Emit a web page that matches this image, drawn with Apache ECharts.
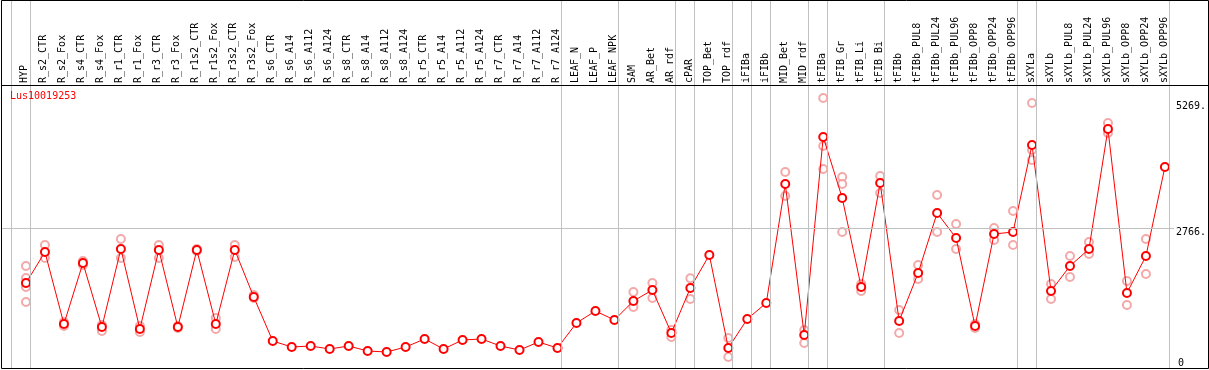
<!DOCTYPE html>
<html><head><meta charset="utf-8">
<script src="https://cdn.jsdelivr.net/npm/echarts@6/dist/echarts.min.js"></script>
<style>html,body{margin:0;padding:0;background:#fff}#c{width:1209px;height:370px}</style>
</head><body><div id="c"></div>
<script>
const chartTitle = 'Lus10019253';
const categories = ['HYP','R_s2_CTR','R_s2_Fox','R_s4_CTR','R_s4_Fox','R_r1_CTR','R_r1_Fox','R_r3_CTR','R_r3_Fox','R_r1s2_CTR','R_r1s2_Fox','R_r3s2_CTR','R_r3s2_Fox','R_s6_CTR','R_s6_A14','R_s6_A112','R_s6_A124','R_s8_CTR','R_s8_A14','R_s8_A112','R_s8_A124','R_r5_CTR','R_r5_A14','R_r5_A112','R_r5_A124','R_r7_CTR','R_r7_A14','R_r7_A112','R_r7_A124','LEAF_N','LEAF_P','LEAF_NPK','SAM','AR_Bet','AR_rdf','cPAR','TOP_Bet','TOP_rdf','iFIBa','iFIBb','MID_Bet','MID_rdf','tFIBa','tFIB_Gr','tFIB_Li','tFIB_Bi','tFIBb','tFIBb_PUL8','tFIBb_PUL24','tFIBb_PUL96','tFIBb_OPP8','tFIBb_OPP24','tFIBb_OPP96','sXYLa','sXYLb','sXYLb_PUL8','sXYLb_PUL24','sXYLb_PUL96','sXYLb_OPP8','sXYLb_OPP24','sXYLb_OPP96'];
const means = [1677,2289,868,2072,809,2348,770,2329,809,2329,868,2329,1401,533,414,434,375,434,335,316,414,572,375,553,572,434,355,513,395,888,1125,947,1322,1539,691,1579,2230,395,967,1283,3631,651,4559,3355,1598,3651,927,1875,3059,2565,829,2644,2684,4401,1520,2013,2348,4716,1480,2210,3967];
const replicates = [[2013,1776,1598,1302,1677],[2427,2171],[908,829],[2111,2033],[848,730],[2546,2171],[829,711],[2427,2171],[829,789],[2348,2309],[987,770],[2427,2190],[1441,1381],[],[],[],[],[],[],[],[],[],[],[],[],[],[],[],[],[],[],[],[1500,1204],[1677,1381],[750,612],[1770,1361],[],[592,217],[],[],[3868,3394],[750,493],[5328,4381,3927],[3769,3631,2684],[1657,1520],[3789,3453],[1145,691],[2033,1756],[3414,2684],[2841,2348],[868,789],[2762,2526],[3098,2427],[5229,4105,4302],[1657,1361],[2210,1796],[2487,2250],[4835,4637],[1717,1243],[2546,1855],[]];
const yTickValues = [0, 2766, 5269];
const gridValue = 2766;
const separatorsAfter = [-1,0,28,31,34,35,37,38,39,41,42,45,52,53,60];

const plotLeft = 2, plotRight = 1175, plotBottom = 368, headerBottom = 85;
const step = 19, firstX = 26, sepOffset = 4 / step, labelShift = -2 / step;
const xMin = (plotLeft - firstX) / step, xMax = (plotRight - firstX) / step;
const yTopVal = 5269, yTopPx = 101;
const yMax = yTopVal * plotBottom / (plotBottom - yTopPx);
const mono = 'DejaVu Sans Mono';

const repData = [];
replicates.forEach((arr, i) => arr.forEach(v => repData.push([i, v])));

const chart = echarts.init(document.getElementById('c'), null, {renderer: 'canvas'});
chart.setOption({
  animation: false,
  backgroundColor: '#fff',
  title: {text: chartTitle, left: 10, top: 91, padding: 0,
    textStyle: {color: '#ff0000', fontSize: 10, fontWeight: 'normal', fontFamily: mono}},
  grid: [
    {left: plotLeft, top: 0, width: plotRight - plotLeft, height: plotBottom},
    {left: plotLeft, top: 0, width: plotRight - plotLeft, height: headerBottom}
  ],
  xAxis: [
    {gridIndex: 0, type: 'value', min: xMin, max: xMax, show: false},
    {gridIndex: 1, type: 'value', min: xMin, max: xMax, position: 'bottom',
      axisLine: {show: false}, axisTick: {show: false}, splitLine: {show: false},
      axisLabel: {customValues: categories.map((c, i) => i + labelShift),
        formatter: v => categories[Math.round(v - labelShift)],
        rotate: 90, inside: true, margin: 2, fontFamily: mono, fontSize: 10, color: '#000'}}
  ],
  yAxis: [
    {gridIndex: 0, type: 'value', min: 0, max: yMax, position: 'right',
      axisLine: {show: false}, axisTick: {show: false}, splitLine: {show: false},
      axisLabel: {customValues: yTickValues.filter(v => v > 0), formatter: v => v + '.', verticalAlign: 'top',
        margin: 2, fontFamily: mono, fontSize: 10, color: '#000'}},
    {gridIndex: 0, type: 'value', min: 0, max: yMax, position: 'right',
      axisLine: {show: false}, axisTick: {show: false}, splitLine: {show: false},
      axisLabel: {customValues: yTickValues.filter(v => v === 0), formatter: v => String(v), verticalAlign: 'bottom',
        margin: 4, fontFamily: mono, fontSize: 10, color: '#000'}},
    {gridIndex: 1, type: 'value', min: 0, max: 1, show: false}
  ],
  graphic: [
    {type: 'rect', z: 100, silent: true, shape: {x: 1.5, y: 0.5, width: 1207, height: 368},
      style: {fill: 'none', stroke: '#000', lineWidth: 1}},
    {type: 'line', z: 100, silent: true, shape: {x1: 1.5, y1: headerBottom + 0.5, x2: 1208.5, y2: headerBottom + 0.5},
      style: {stroke: '#000', lineWidth: 1}}
  ],
  series: [
    {type: 'scatter', xAxisIndex: 0, yAxisIndex: 0, data: repData, clip: false,
      symbol: 'emptyCircle', symbolSize: 8, z: 2,
      itemStyle: {color: '#f09494', borderColor: '#f09494', borderWidth: 1},
      markLine: {silent: true, symbol: 'none', label: {show: false}, animation: false,
        lineStyle: {color: '#c0c0c0', width: 1, type: 'solid'},
        data: separatorsAfter.map(k => ({xAxis: k + sepOffset})).concat([{yAxis: gridValue}])}},
    {type: 'line', xAxisIndex: 0, yAxisIndex: 0, data: means.map((v, i) => [i, v]), clip: false,
      symbol: 'emptyCircle', symbolSize: 8, z: 3,
      lineStyle: {color: '#ff0000', width: 1},
      itemStyle: {color: '#ff0000', borderColor: '#ff0000', borderWidth: 1.2}}
  ]
});
</script></body></html>
